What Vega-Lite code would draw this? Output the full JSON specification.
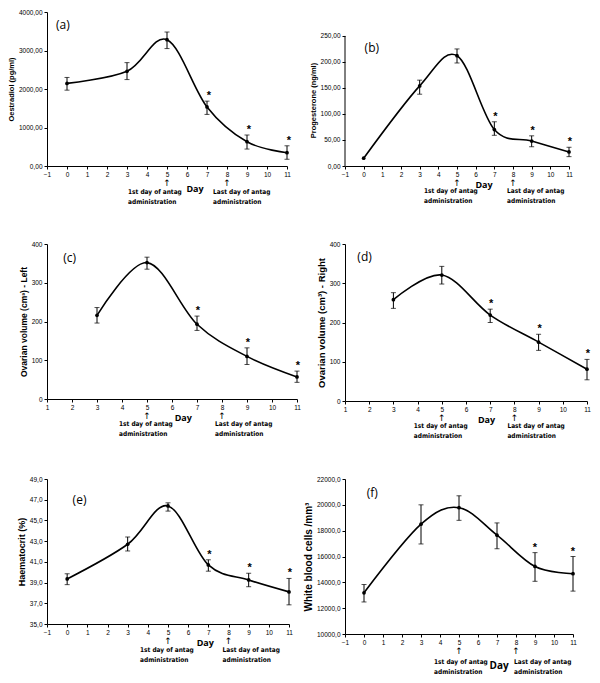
{
"$schema": "https://vega.github.io/schema/vega-lite/v6.json",
"padding": {"left": 7, "top": 9, "right": 5, "bottom": 5},
"background": "white",
"datasets": {
 "a": [{"day":0,"mean":2145,"lo":1970,"hi":2300,"sig":""},{"day":3,"mean":2460,"lo":2245,"hi":2685,"sig":""},{"day":5,"mean":3280,"lo":3050,"hi":3480,"sig":""},{"day":7,"mean":1535,"lo":1340,"hi":1685,"sig":"*"},{"day":9,"mean":630,"lo":440,"hi":805,"sig":"*"},{"day":11,"mean":345,"lo":175,"hi":525,"sig":"*"}],
 "b": [{"day":0,"mean":15,"lo":null,"hi":null,"sig":""},{"day":3,"mean":154,"lo":138,"hi":165,"sig":""},{"day":5,"mean":212,"lo":198,"hi":225,"sig":""},{"day":7,"mean":70,"lo":59,"hi":85,"sig":"*"},{"day":9,"mean":48,"lo":37,"hi":58,"sig":"*"},{"day":11,"mean":27,"lo":18,"hi":36,"sig":"*"}],
 "c": [{"day":3,"mean":216,"lo":196,"hi":236,"sig":""},{"day":5,"mean":352,"lo":335,"hi":366,"sig":""},{"day":7,"mean":193,"lo":177,"hi":214,"sig":"*"},{"day":9,"mean":110,"lo":89,"hi":132,"sig":"*"},{"day":11,"mean":57,"lo":43,"hi":72,"sig":"*"}],
 "d": [{"day":3,"mean":258,"lo":236,"hi":276,"sig":""},{"day":5,"mean":321,"lo":298,"hi":343,"sig":""},{"day":7,"mean":219,"lo":200,"hi":234,"sig":"*"},{"day":9,"mean":150,"lo":129,"hi":170,"sig":"*"},{"day":11,"mean":81,"lo":54,"hi":106,"sig":"*"}],
 "e": [{"day":0,"mean":39.35,"lo":38.8,"hi":39.85,"sig":""},{"day":3,"mean":42.7,"lo":42.05,"hi":43.4,"sig":""},{"day":5,"mean":46.4,"lo":45.9,"hi":46.7,"sig":""},{"day":7,"mean":40.7,"lo":40.1,"hi":41.2,"sig":"*"},{"day":9,"mean":39.25,"lo":38.6,"hi":39.9,"sig":"*"},{"day":11,"mean":38.1,"lo":36.85,"hi":39.4,"sig":"*"}],
 "f": [{"day":0,"mean":13190,"lo":12480,"hi":13830,"sig":""},{"day":3,"mean":18500,"lo":16970,"hi":20000,"sig":""},{"day":5,"mean":19780,"lo":18800,"hi":20700,"sig":""},{"day":7,"mean":17650,"lo":16600,"hi":18600,"sig":""},{"day":9,"mean":15230,"lo":14080,"hi":16300,"sig":"*"},{"day":11,"mean":14670,"lo":13320,"hi":16000,"sig":"*"}],
 "ann": [{"day":5,"lab":["1st day of antag","administration"]},{"day":8,"lab":["Last day of antag","administration"]}],
 "one": [{"k":1}]
},
"columns": 2,
"bounds": "flush",
"spacing": {"row": 78, "column": 48},
"concat": [
 {"width":240,"height":154,"data":{"name":"a"},
  "layer":[
  {"mark":{"type":"line","interpolate":"cardinal","color":"black","strokeWidth":1.6},"encoding":{
   "x":{"field":"day","type":"quantitative","title":null,"scale":{"domain":[-1,11],"nice":false,"zero":false},"axis":{"values":[-1,0,1,2,3,4,5,6,7,8,9,10,11],"format":"d","labelOverlap":false}},
   "y":{"field":"mean","type":"quantitative","title":"Oestradiol  (pg/ml)","scale":{"domain":[0,4000],"nice":false},"axis":{"values":[0,1000,2000,3000,4000],"labelExpr":"replace(format(datum.value,'.2f'),'.',',')","labelOverlap":false,"titleFontSize":7.5}}}},
  {"mark":{"type":"errorbar","ticks":{"size":5},"color":"black"},"encoding":{
   "x":{"field":"day","type":"quantitative","title":null,"scale":{"domain":[-1,11],"nice":false,"zero":false},"axis":{"values":[-1,0,1,2,3,4,5,6,7,8,9,10,11],"format":"d","labelOverlap":false}},
   "y":{"field":"lo","type":"quantitative","title":"Oestradiol  (pg/ml)","scale":{"domain":[0,4000],"nice":false},"axis":{"values":[0,1000,2000,3000,4000],"labelExpr":"replace(format(datum.value,'.2f'),'.',',')","labelOverlap":false,"titleFontSize":7.5}},"y2":{"field":"hi"}}},
  {"mark":{"type":"point","filled":true,"size":14,"color":"black","opacity":1},"encoding":{
   "x":{"field":"day","type":"quantitative","title":null,"scale":{"domain":[-1,11],"nice":false,"zero":false},"axis":{"values":[-1,0,1,2,3,4,5,6,7,8,9,10,11],"format":"d","labelOverlap":false}},
   "y":{"field":"mean","type":"quantitative","title":"Oestradiol  (pg/ml)","scale":{"domain":[0,4000],"nice":false},"axis":{"values":[0,1000,2000,3000,4000],"labelExpr":"replace(format(datum.value,'.2f'),'.',',')","labelOverlap":false,"titleFontSize":7.5}}}},
  {"transform":[{"filter":"datum.sig"}],"mark":{"type":"text","fontSize":11,"fontWeight":"bold","dy":-2,"dx":2,"baseline":"alphabetic","font":"Liberation Sans"},"encoding":{
   "x":{"field":"day","type":"quantitative","title":null,"scale":{"domain":[-1,11],"nice":false,"zero":false},"axis":{"values":[-1,0,1,2,3,4,5,6,7,8,9,10,11],"format":"d","labelOverlap":false}},
   "y":{"field":"hi","type":"quantitative","title":"Oestradiol  (pg/ml)","scale":{"domain":[0,4000],"nice":false},"axis":{"values":[0,1000,2000,3000,4000],"labelExpr":"replace(format(datum.value,'.2f'),'.',',')","labelOverlap":false,"titleFontSize":7.5}},"text":{"field":"sig"}}},
  {"data":{"name":"one"},"mark":{"type":"text","fontSize":12,"align":"left","baseline":"middle","font":"Open Sans"},"encoding":{"x":{"datum":-0.55,"axis":{"values":[-1,0,1,2,3,4,5,6,7,8,9,10,11],"format":"d","labelOverlap":false}},"y":{"datum":3650,"axis":{"values":[0,1000,2000,3000,4000],"labelExpr":"replace(format(datum.value,'.2f'),'.',',')","labelOverlap":false,"titleFontSize":7.5}},"text":{"value":"(a)"}}},
  {"data":{"name":"ann"},"mark":{"type":"text","font":"DejaVu Sans","fontSize":9,"baseline":"top","dy":13},"encoding":{"x":{"field":"day","type":"quantitative","title":null,"scale":{"domain":[-1,11],"nice":false,"zero":false},"axis":{"values":[-1,0,1,2,3,4,5,6,7,8,9,10,11],"format":"d","labelOverlap":false}},"y":{"datum":0,"axis":{"values":[0,1000,2000,3000,4000],"labelExpr":"replace(format(datum.value,'.2f'),'.',',')","labelOverlap":false,"titleFontSize":7.5}},"text":{"value":"↑"}}},
  {"data":{"name":"ann"},"transform":[{"filter":"datum.day==5"}],"mark":{"type":"text","align":"left","baseline":"top","dy":23,"dx":-39,"fontSize":6.5,"fontWeight":"bold","font":"Liberation Sans Narrow, DejaVu Sans Condensed","lineHeight":9.5},"encoding":{"x":{"field":"day","type":"quantitative","title":null,"scale":{"domain":[-1,11],"nice":false,"zero":false},"axis":{"values":[-1,0,1,2,3,4,5,6,7,8,9,10,11],"format":"d","labelOverlap":false}},"y":{"datum":0,"axis":{"values":[0,1000,2000,3000,4000],"labelExpr":"replace(format(datum.value,'.2f'),'.',',')","labelOverlap":false,"titleFontSize":7.5}},"text":{"field":"lab"}}},
  {"data":{"name":"ann"},"transform":[{"filter":"datum.day==8"}],"mark":{"type":"text","align":"left","baseline":"top","dy":23,"dx":-14,"fontSize":6.5,"fontWeight":"bold","font":"Liberation Sans Narrow, DejaVu Sans Condensed","lineHeight":9.5},"encoding":{"x":{"field":"day","type":"quantitative","title":null,"scale":{"domain":[-1,11],"nice":false,"zero":false},"axis":{"values":[-1,0,1,2,3,4,5,6,7,8,9,10,11],"format":"d","labelOverlap":false}},"y":{"datum":0,"axis":{"values":[0,1000,2000,3000,4000],"labelExpr":"replace(format(datum.value,'.2f'),'.',',')","labelOverlap":false,"titleFontSize":7.5}},"text":{"field":"lab"}}},
  {"data":{"name":"one"},"mark":{"type":"text","fontSize":9,"fontWeight":"bold","baseline":"middle","dy":23,"font":"Open Sans"},"encoding":{"x":{"datum":6.4,"axis":{"values":[-1,0,1,2,3,4,5,6,7,8,9,10,11],"format":"d","labelOverlap":false}},"y":{"datum":0,"axis":{"values":[0,1000,2000,3000,4000],"labelExpr":"replace(format(datum.value,'.2f'),'.',',')","labelOverlap":false,"titleFontSize":7.5}},"text":{"value":"Day"}}}
 ]},
 {"width":224,"height":154,"data":{"name":"b"},
  "layer":[
  {"mark":{"type":"line","interpolate":"cardinal","color":"black","strokeWidth":1.6},"encoding":{
   "x":{"field":"day","type":"quantitative","title":null,"scale":{"domain":[-1,11],"nice":false,"zero":false},"axis":{"values":[-1,0,1,2,3,4,5,6,7,8,9,10,11],"format":"d","labelOverlap":false}},
   "y":{"field":"mean","type":"quantitative","title":"Progesterone (ng/ml)","scale":{"domain":[0,296],"nice":false},"axis":{"values":[0,50,100,150,200,250],"domain":false,"labelExpr":"replace(format(datum.value,'.2f'),'.',',')","labelOverlap":false,"titleFontSize":7.5,"titleY":88}}}},
  {"data":{"name":"one"},"mark":{"type":"rule","color":"black","strokeWidth":1},"encoding":{"x":{"datum":-1,"axis":{"values":[-1,0,1,2,3,4,5,6,7,8,9,10,11],"format":"d","labelOverlap":false}},"y":{"datum":0,"axis":{"values":[0,50,100,150,200,250],"domain":false,"labelExpr":"replace(format(datum.value,'.2f'),'.',',')","labelOverlap":false,"titleFontSize":7.5,"titleY":88}},"y2":{"datum":250}}},
  {"mark":{"type":"errorbar","ticks":{"size":5},"color":"black"},"encoding":{
   "x":{"field":"day","type":"quantitative","title":null,"scale":{"domain":[-1,11],"nice":false,"zero":false},"axis":{"values":[-1,0,1,2,3,4,5,6,7,8,9,10,11],"format":"d","labelOverlap":false}},
   "y":{"field":"lo","type":"quantitative","title":"Progesterone (ng/ml)","scale":{"domain":[0,296],"nice":false},"axis":{"values":[0,50,100,150,200,250],"domain":false,"labelExpr":"replace(format(datum.value,'.2f'),'.',',')","labelOverlap":false,"titleFontSize":7.5,"titleY":88}},"y2":{"field":"hi"}}},
  {"mark":{"type":"point","filled":true,"size":14,"color":"black","opacity":1},"encoding":{
   "x":{"field":"day","type":"quantitative","title":null,"scale":{"domain":[-1,11],"nice":false,"zero":false},"axis":{"values":[-1,0,1,2,3,4,5,6,7,8,9,10,11],"format":"d","labelOverlap":false}},
   "y":{"field":"mean","type":"quantitative","title":"Progesterone (ng/ml)","scale":{"domain":[0,296],"nice":false},"axis":{"values":[0,50,100,150,200,250],"domain":false,"labelExpr":"replace(format(datum.value,'.2f'),'.',',')","labelOverlap":false,"titleFontSize":7.5,"titleY":88}}}},
  {"transform":[{"filter":"datum.sig"}],"mark":{"type":"text","fontSize":11,"fontWeight":"bold","dy":-2,"dx":1,"baseline":"alphabetic","font":"Liberation Sans"},"encoding":{
   "x":{"field":"day","type":"quantitative","title":null,"scale":{"domain":[-1,11],"nice":false,"zero":false},"axis":{"values":[-1,0,1,2,3,4,5,6,7,8,9,10,11],"format":"d","labelOverlap":false}},
   "y":{"field":"hi","type":"quantitative","title":"Progesterone (ng/ml)","scale":{"domain":[0,296],"nice":false},"axis":{"values":[0,50,100,150,200,250],"domain":false,"labelExpr":"replace(format(datum.value,'.2f'),'.',',')","labelOverlap":false,"titleFontSize":7.5,"titleY":88}},"text":{"field":"sig"}}},
  {"data":{"name":"one"},"mark":{"type":"text","fontSize":12,"align":"left","baseline":"middle","font":"Open Sans"},"encoding":{"x":{"datum":0.05,"axis":{"values":[-1,0,1,2,3,4,5,6,7,8,9,10,11],"format":"d","labelOverlap":false}},"y":{"datum":227,"axis":{"values":[0,50,100,150,200,250],"domain":false,"labelExpr":"replace(format(datum.value,'.2f'),'.',',')","labelOverlap":false,"titleFontSize":7.5,"titleY":88}},"text":{"value":"(b)"}}},
  {"data":{"name":"ann"},"mark":{"type":"text","font":"DejaVu Sans","fontSize":9,"baseline":"top","dy":13},"encoding":{"x":{"field":"day","type":"quantitative","title":null,"scale":{"domain":[-1,11],"nice":false,"zero":false},"axis":{"values":[-1,0,1,2,3,4,5,6,7,8,9,10,11],"format":"d","labelOverlap":false}},"y":{"datum":0,"axis":{"values":[0,50,100,150,200,250],"domain":false,"labelExpr":"replace(format(datum.value,'.2f'),'.',',')","labelOverlap":false,"titleFontSize":7.5,"titleY":88}},"text":{"value":"↑"}}},
  {"data":{"name":"ann"},"transform":[{"filter":"datum.day==5"}],"mark":{"type":"text","align":"left","baseline":"top","dy":22,"dx":-33,"fontSize":6.5,"fontWeight":"bold","font":"Liberation Sans Narrow, DejaVu Sans Condensed","lineHeight":9.5},"encoding":{"x":{"field":"day","type":"quantitative","title":null,"scale":{"domain":[-1,11],"nice":false,"zero":false},"axis":{"values":[-1,0,1,2,3,4,5,6,7,8,9,10,11],"format":"d","labelOverlap":false}},"y":{"datum":0,"axis":{"values":[0,50,100,150,200,250],"domain":false,"labelExpr":"replace(format(datum.value,'.2f'),'.',',')","labelOverlap":false,"titleFontSize":7.5,"titleY":88}},"text":{"field":"lab"}}},
  {"data":{"name":"ann"},"transform":[{"filter":"datum.day==8"}],"mark":{"type":"text","align":"left","baseline":"top","dy":22,"dx":-6,"fontSize":6.5,"fontWeight":"bold","font":"Liberation Sans Narrow, DejaVu Sans Condensed","lineHeight":9.5},"encoding":{"x":{"field":"day","type":"quantitative","title":null,"scale":{"domain":[-1,11],"nice":false,"zero":false},"axis":{"values":[-1,0,1,2,3,4,5,6,7,8,9,10,11],"format":"d","labelOverlap":false}},"y":{"datum":0,"axis":{"values":[0,50,100,150,200,250],"domain":false,"labelExpr":"replace(format(datum.value,'.2f'),'.',',')","labelOverlap":false,"titleFontSize":7.5,"titleY":88}},"text":{"field":"lab"}}},
  {"data":{"name":"one"},"mark":{"type":"text","fontSize":9,"fontWeight":"bold","baseline":"middle","dy":19,"font":"Open Sans"},"encoding":{"x":{"datum":6.45,"axis":{"values":[-1,0,1,2,3,4,5,6,7,8,9,10,11],"format":"d","labelOverlap":false}},"y":{"datum":0,"axis":{"values":[0,50,100,150,200,250],"domain":false,"labelExpr":"replace(format(datum.value,'.2f'),'.',',')","labelOverlap":false,"titleFontSize":7.5,"titleY":88}},"text":{"value":"Day"}}}
 ]},
 {"width":250,"height":155,"data":{"name":"c"},
  "layer":[
  {"mark":{"type":"line","interpolate":"cardinal","color":"black","strokeWidth":1.6},"encoding":{
   "x":{"field":"day","type":"quantitative","title":null,"scale":{"domain":[1,11],"nice":false,"zero":false},"axis":{"values":[1,2,3,4,5,6,7,8,9,10,11],"format":"d","labelOverlap":false}},
   "y":{"field":"mean","type":"quantitative","title":"Ovarian volume (cm³) - Left","scale":{"domain":[0,400],"nice":false},"axis":{"values":[0,100,200,300,400],"format":"d","labelOverlap":false,"titleFontSize":8.5}}}},
  {"mark":{"type":"errorbar","ticks":{"size":5},"color":"black"},"encoding":{
   "x":{"field":"day","type":"quantitative","title":null,"scale":{"domain":[1,11],"nice":false,"zero":false},"axis":{"values":[1,2,3,4,5,6,7,8,9,10,11],"format":"d","labelOverlap":false}},
   "y":{"field":"lo","type":"quantitative","title":"Ovarian volume (cm³) - Left","scale":{"domain":[0,400],"nice":false},"axis":{"values":[0,100,200,300,400],"format":"d","labelOverlap":false,"titleFontSize":8.5}},"y2":{"field":"hi"}}},
  {"mark":{"type":"point","filled":true,"size":14,"color":"black","opacity":1},"encoding":{
   "x":{"field":"day","type":"quantitative","title":null,"scale":{"domain":[1,11],"nice":false,"zero":false},"axis":{"values":[1,2,3,4,5,6,7,8,9,10,11],"format":"d","labelOverlap":false}},
   "y":{"field":"mean","type":"quantitative","title":"Ovarian volume (cm³) - Left","scale":{"domain":[0,400],"nice":false},"axis":{"values":[0,100,200,300,400],"format":"d","labelOverlap":false,"titleFontSize":8.5}}}},
  {"transform":[{"filter":"datum.sig"}],"mark":{"type":"text","fontSize":11,"fontWeight":"bold","dy":-2,"dx":1,"baseline":"alphabetic","font":"Liberation Sans"},"encoding":{
   "x":{"field":"day","type":"quantitative","title":null,"scale":{"domain":[1,11],"nice":false,"zero":false},"axis":{"values":[1,2,3,4,5,6,7,8,9,10,11],"format":"d","labelOverlap":false}},
   "y":{"field":"hi","type":"quantitative","title":"Ovarian volume (cm³) - Left","scale":{"domain":[0,400],"nice":false},"axis":{"values":[0,100,200,300,400],"format":"d","labelOverlap":false,"titleFontSize":8.5}},"text":{"field":"sig"}}},
  {"data":{"name":"one"},"mark":{"type":"text","fontSize":12,"align":"left","baseline":"middle","font":"Open Sans"},"encoding":{"x":{"datum":1.65,"axis":{"values":[1,2,3,4,5,6,7,8,9,10,11],"format":"d","labelOverlap":false}},"y":{"datum":365,"axis":{"values":[0,100,200,300,400],"format":"d","labelOverlap":false,"titleFontSize":8.5}},"text":{"value":"(c)"}}},
  {"data":{"name":"ann"},"mark":{"type":"text","font":"DejaVu Sans","fontSize":9,"baseline":"top","dy":13},"encoding":{"x":{"field":"day","type":"quantitative","title":null,"scale":{"domain":[1,11],"nice":false,"zero":false},"axis":{"values":[1,2,3,4,5,6,7,8,9,10,11],"format":"d","labelOverlap":false}},"y":{"datum":0,"axis":{"values":[0,100,200,300,400],"format":"d","labelOverlap":false,"titleFontSize":8.5}},"text":{"value":"↑"}}},
  {"data":{"name":"ann"},"transform":[{"filter":"datum.day==5"}],"mark":{"type":"text","align":"left","baseline":"top","dy":22,"dx":-28,"fontSize":6.5,"fontWeight":"bold","font":"Liberation Sans Narrow, DejaVu Sans Condensed","lineHeight":9.5},"encoding":{"x":{"field":"day","type":"quantitative","title":null,"scale":{"domain":[1,11],"nice":false,"zero":false},"axis":{"values":[1,2,3,4,5,6,7,8,9,10,11],"format":"d","labelOverlap":false}},"y":{"datum":0,"axis":{"values":[0,100,200,300,400],"format":"d","labelOverlap":false,"titleFontSize":8.5}},"text":{"field":"lab"}}},
  {"data":{"name":"ann"},"transform":[{"filter":"datum.day==8"}],"mark":{"type":"text","align":"left","baseline":"top","dy":22,"dx":-7,"fontSize":6.5,"fontWeight":"bold","font":"Liberation Sans Narrow, DejaVu Sans Condensed","lineHeight":9.5},"encoding":{"x":{"field":"day","type":"quantitative","title":null,"scale":{"domain":[1,11],"nice":false,"zero":false},"axis":{"values":[1,2,3,4,5,6,7,8,9,10,11],"format":"d","labelOverlap":false}},"y":{"datum":0,"axis":{"values":[0,100,200,300,400],"format":"d","labelOverlap":false,"titleFontSize":8.5}},"text":{"field":"lab"}}},
  {"data":{"name":"one"},"mark":{"type":"text","fontSize":9,"fontWeight":"bold","baseline":"middle","dy":19,"font":"Open Sans"},"encoding":{"x":{"datum":6.45,"axis":{"values":[1,2,3,4,5,6,7,8,9,10,11],"format":"d","labelOverlap":false}},"y":{"datum":0,"axis":{"values":[0,100,200,300,400],"format":"d","labelOverlap":false,"titleFontSize":8.5}},"text":{"value":"Day"}}}
 ]},
 {"width":242,"height":157,"data":{"name":"d"},
  "layer":[
  {"mark":{"type":"line","interpolate":"cardinal","color":"black","strokeWidth":1.6},"encoding":{
   "x":{"field":"day","type":"quantitative","title":null,"scale":{"domain":[1,11],"nice":false,"zero":false},"axis":{"values":[1,2,3,4,5,6,7,8,9,10,11],"format":"d","labelOverlap":false}},
   "y":{"field":"mean","type":"quantitative","title":"Ovarian volume (cm³) - Right","scale":{"domain":[0,400],"nice":false},"axis":{"values":[0,100,200,300,400],"format":"d","labelOverlap":false,"titleFontSize":9.5}}}},
  {"mark":{"type":"errorbar","ticks":{"size":5},"color":"black"},"encoding":{
   "x":{"field":"day","type":"quantitative","title":null,"scale":{"domain":[1,11],"nice":false,"zero":false},"axis":{"values":[1,2,3,4,5,6,7,8,9,10,11],"format":"d","labelOverlap":false}},
   "y":{"field":"lo","type":"quantitative","title":"Ovarian volume (cm³) - Right","scale":{"domain":[0,400],"nice":false},"axis":{"values":[0,100,200,300,400],"format":"d","labelOverlap":false,"titleFontSize":9.5}},"y2":{"field":"hi"}}},
  {"mark":{"type":"point","filled":true,"size":14,"color":"black","opacity":1},"encoding":{
   "x":{"field":"day","type":"quantitative","title":null,"scale":{"domain":[1,11],"nice":false,"zero":false},"axis":{"values":[1,2,3,4,5,6,7,8,9,10,11],"format":"d","labelOverlap":false}},
   "y":{"field":"mean","type":"quantitative","title":"Ovarian volume (cm³) - Right","scale":{"domain":[0,400],"nice":false},"axis":{"values":[0,100,200,300,400],"format":"d","labelOverlap":false,"titleFontSize":9.5}}}},
  {"transform":[{"filter":"datum.sig"}],"mark":{"type":"text","fontSize":11,"fontWeight":"bold","dy":-2,"dx":1,"baseline":"alphabetic","font":"Liberation Sans"},"encoding":{
   "x":{"field":"day","type":"quantitative","title":null,"scale":{"domain":[1,11],"nice":false,"zero":false},"axis":{"values":[1,2,3,4,5,6,7,8,9,10,11],"format":"d","labelOverlap":false}},
   "y":{"field":"hi","type":"quantitative","title":"Ovarian volume (cm³) - Right","scale":{"domain":[0,400],"nice":false},"axis":{"values":[0,100,200,300,400],"format":"d","labelOverlap":false,"titleFontSize":9.5}},"text":{"field":"sig"}}},
  {"data":{"name":"one"},"mark":{"type":"text","fontSize":12,"align":"left","baseline":"middle","font":"Open Sans"},"encoding":{"x":{"datum":1.51,"axis":{"values":[1,2,3,4,5,6,7,8,9,10,11],"format":"d","labelOverlap":false}},"y":{"datum":366,"axis":{"values":[0,100,200,300,400],"format":"d","labelOverlap":false,"titleFontSize":9.5}},"text":{"value":"(d)"}}},
  {"data":{"name":"ann"},"mark":{"type":"text","font":"DejaVu Sans","fontSize":9,"baseline":"top","dy":13},"encoding":{"x":{"field":"day","type":"quantitative","title":null,"scale":{"domain":[1,11],"nice":false,"zero":false},"axis":{"values":[1,2,3,4,5,6,7,8,9,10,11],"format":"d","labelOverlap":false}},"y":{"datum":0,"axis":{"values":[0,100,200,300,400],"format":"d","labelOverlap":false,"titleFontSize":9.5}},"text":{"value":"↑"}}},
  {"data":{"name":"ann"},"transform":[{"filter":"datum.day==5"}],"mark":{"type":"text","align":"left","baseline":"top","dy":22,"dx":-28,"fontSize":6.5,"fontWeight":"bold","font":"Liberation Sans Narrow, DejaVu Sans Condensed","lineHeight":9.5},"encoding":{"x":{"field":"day","type":"quantitative","title":null,"scale":{"domain":[1,11],"nice":false,"zero":false},"axis":{"values":[1,2,3,4,5,6,7,8,9,10,11],"format":"d","labelOverlap":false}},"y":{"datum":0,"axis":{"values":[0,100,200,300,400],"format":"d","labelOverlap":false,"titleFontSize":9.5}},"text":{"field":"lab"}}},
  {"data":{"name":"ann"},"transform":[{"filter":"datum.day==8"}],"mark":{"type":"text","align":"left","baseline":"top","dy":22,"dx":-7,"fontSize":6.5,"fontWeight":"bold","font":"Liberation Sans Narrow, DejaVu Sans Condensed","lineHeight":9.5},"encoding":{"x":{"field":"day","type":"quantitative","title":null,"scale":{"domain":[1,11],"nice":false,"zero":false},"axis":{"values":[1,2,3,4,5,6,7,8,9,10,11],"format":"d","labelOverlap":false}},"y":{"datum":0,"axis":{"values":[0,100,200,300,400],"format":"d","labelOverlap":false,"titleFontSize":9.5}},"text":{"field":"lab"}}},
  {"data":{"name":"one"},"mark":{"type":"text","fontSize":9,"fontWeight":"bold","baseline":"middle","dy":19,"font":"Open Sans"},"encoding":{"x":{"datum":6.85,"axis":{"values":[1,2,3,4,5,6,7,8,9,10,11],"format":"d","labelOverlap":false}},"y":{"datum":0,"axis":{"values":[0,100,200,300,400],"format":"d","labelOverlap":false,"titleFontSize":9.5}},"text":{"value":"Day"}}}
 ]},
 {"width":242,"height":145,"data":{"name":"e"},
  "layer":[
  {"mark":{"type":"line","interpolate":"cardinal","color":"black","strokeWidth":1.6},"encoding":{
   "x":{"field":"day","type":"quantitative","title":null,"scale":{"domain":[-1,11],"nice":false,"zero":false},"axis":{"values":[-1,0,1,2,3,4,5,6,7,8,9,10,11],"format":"d","labelOverlap":false}},
   "y":{"field":"mean","type":"quantitative","title":"Haematocrit (%)","scale":{"domain":[35,49],"nice":false,"zero":false},"axis":{"values":[35,37,39,41,43,45,47,49],"labelExpr":"replace(format(datum.value,'.1f'),'.',',')","labelOverlap":false,"titleFontSize":9}}}},
  {"mark":{"type":"errorbar","ticks":{"size":5},"color":"black"},"encoding":{
   "x":{"field":"day","type":"quantitative","title":null,"scale":{"domain":[-1,11],"nice":false,"zero":false},"axis":{"values":[-1,0,1,2,3,4,5,6,7,8,9,10,11],"format":"d","labelOverlap":false}},
   "y":{"field":"lo","type":"quantitative","title":"Haematocrit (%)","scale":{"domain":[35,49],"nice":false,"zero":false},"axis":{"values":[35,37,39,41,43,45,47,49],"labelExpr":"replace(format(datum.value,'.1f'),'.',',')","labelOverlap":false,"titleFontSize":9}},"y2":{"field":"hi"}}},
  {"mark":{"type":"point","filled":true,"size":14,"color":"black","opacity":1},"encoding":{
   "x":{"field":"day","type":"quantitative","title":null,"scale":{"domain":[-1,11],"nice":false,"zero":false},"axis":{"values":[-1,0,1,2,3,4,5,6,7,8,9,10,11],"format":"d","labelOverlap":false}},
   "y":{"field":"mean","type":"quantitative","title":"Haematocrit (%)","scale":{"domain":[35,49],"nice":false,"zero":false},"axis":{"values":[35,37,39,41,43,45,47,49],"labelExpr":"replace(format(datum.value,'.1f'),'.',',')","labelOverlap":false,"titleFontSize":9}}}},
  {"transform":[{"filter":"datum.sig"}],"mark":{"type":"text","fontSize":11,"fontWeight":"bold","dy":-2,"dx":1,"baseline":"alphabetic","font":"Liberation Sans"},"encoding":{
   "x":{"field":"day","type":"quantitative","title":null,"scale":{"domain":[-1,11],"nice":false,"zero":false},"axis":{"values":[-1,0,1,2,3,4,5,6,7,8,9,10,11],"format":"d","labelOverlap":false}},
   "y":{"field":"hi","type":"quantitative","title":"Haematocrit (%)","scale":{"domain":[35,49],"nice":false,"zero":false},"axis":{"values":[35,37,39,41,43,45,47,49],"labelExpr":"replace(format(datum.value,'.1f'),'.',',')","labelOverlap":false,"titleFontSize":9}},"text":{"field":"sig"}}},
  {"data":{"name":"one"},"mark":{"type":"text","fontSize":12,"align":"left","baseline":"middle","font":"Open Sans"},"encoding":{"x":{"datum":0.27,"axis":{"values":[-1,0,1,2,3,4,5,6,7,8,9,10,11],"format":"d","labelOverlap":false}},"y":{"datum":46.98,"axis":{"values":[35,37,39,41,43,45,47,49],"labelExpr":"replace(format(datum.value,'.1f'),'.',',')","labelOverlap":false,"titleFontSize":9}},"text":{"value":"(e)"}}},
  {"data":{"name":"ann"},"mark":{"type":"text","font":"DejaVu Sans","fontSize":9,"baseline":"top","dy":13},"encoding":{"x":{"field":"day","type":"quantitative","title":null,"scale":{"domain":[-1,11],"nice":false,"zero":false},"axis":{"values":[-1,0,1,2,3,4,5,6,7,8,9,10,11],"format":"d","labelOverlap":false}},"y":{"datum":35,"axis":{"values":[35,37,39,41,43,45,47,49],"labelExpr":"replace(format(datum.value,'.1f'),'.',',')","labelOverlap":false,"titleFontSize":9}},"text":{"value":"↑"}}},
  {"data":{"name":"ann"},"transform":[{"filter":"datum.day==5"}],"mark":{"type":"text","align":"left","baseline":"top","dy":23,"dx":-28,"fontSize":6.5,"fontWeight":"bold","font":"Liberation Sans Narrow, DejaVu Sans Condensed","lineHeight":9.5},"encoding":{"x":{"field":"day","type":"quantitative","title":null,"scale":{"domain":[-1,11],"nice":false,"zero":false},"axis":{"values":[-1,0,1,2,3,4,5,6,7,8,9,10,11],"format":"d","labelOverlap":false}},"y":{"datum":35,"axis":{"values":[35,37,39,41,43,45,47,49],"labelExpr":"replace(format(datum.value,'.1f'),'.',',')","labelOverlap":false,"titleFontSize":9}},"text":{"field":"lab"}}},
  {"data":{"name":"ann"},"transform":[{"filter":"datum.day==8"}],"mark":{"type":"text","align":"left","baseline":"top","dy":23,"dx":-6,"fontSize":6.5,"fontWeight":"bold","font":"Liberation Sans Narrow, DejaVu Sans Condensed","lineHeight":9.5},"encoding":{"x":{"field":"day","type":"quantitative","title":null,"scale":{"domain":[-1,11],"nice":false,"zero":false},"axis":{"values":[-1,0,1,2,3,4,5,6,7,8,9,10,11],"format":"d","labelOverlap":false}},"y":{"datum":35,"axis":{"values":[35,37,39,41,43,45,47,49],"labelExpr":"replace(format(datum.value,'.1f'),'.',',')","labelOverlap":false,"titleFontSize":9}},"text":{"field":"lab"}}},
  {"data":{"name":"one"},"mark":{"type":"text","fontSize":9,"fontWeight":"bold","baseline":"middle","dy":19,"font":"Open Sans"},"encoding":{"x":{"datum":6.85,"axis":{"values":[-1,0,1,2,3,4,5,6,7,8,9,10,11],"format":"d","labelOverlap":false}},"y":{"datum":35,"axis":{"values":[35,37,39,41,43,45,47,49],"labelExpr":"replace(format(datum.value,'.1f'),'.',',')","labelOverlap":false,"titleFontSize":9}},"text":{"value":"Day"}}}
 ]},
 {"width":228,"height":155,"data":{"name":"f"},
  "layer":[
  {"mark":{"type":"line","interpolate":"cardinal","color":"black","strokeWidth":1.6},"encoding":{
   "x":{"field":"day","type":"quantitative","title":null,"scale":{"domain":[-1,11],"nice":false,"zero":false},"axis":{"values":[-1,0,1,2,3,4,5,6,7,8,9,10,11],"format":"d","labelOverlap":false}},
   "y":{"field":"mean","type":"quantitative","title":"White blood cells /mm³","scale":{"domain":[10000,22000],"nice":false,"zero":false},"axis":{"values":[10000,12000,14000,16000,18000,20000,22000],"labelExpr":"replace(format(datum.value,'.1f'),'.',',')","labelOverlap":false,"titleFontSize":10}}}},
  {"mark":{"type":"errorbar","ticks":{"size":5},"color":"black"},"encoding":{
   "x":{"field":"day","type":"quantitative","title":null,"scale":{"domain":[-1,11],"nice":false,"zero":false},"axis":{"values":[-1,0,1,2,3,4,5,6,7,8,9,10,11],"format":"d","labelOverlap":false}},
   "y":{"field":"lo","type":"quantitative","title":"White blood cells /mm³","scale":{"domain":[10000,22000],"nice":false,"zero":false},"axis":{"values":[10000,12000,14000,16000,18000,20000,22000],"labelExpr":"replace(format(datum.value,'.1f'),'.',',')","labelOverlap":false,"titleFontSize":10}},"y2":{"field":"hi"}}},
  {"mark":{"type":"point","filled":true,"size":14,"color":"black","opacity":1},"encoding":{
   "x":{"field":"day","type":"quantitative","title":null,"scale":{"domain":[-1,11],"nice":false,"zero":false},"axis":{"values":[-1,0,1,2,3,4,5,6,7,8,9,10,11],"format":"d","labelOverlap":false}},
   "y":{"field":"mean","type":"quantitative","title":"White blood cells /mm³","scale":{"domain":[10000,22000],"nice":false,"zero":false},"axis":{"values":[10000,12000,14000,16000,18000,20000,22000],"labelExpr":"replace(format(datum.value,'.1f'),'.',',')","labelOverlap":false,"titleFontSize":10}}}},
  {"transform":[{"filter":"datum.sig"}],"mark":{"type":"text","fontSize":11,"fontWeight":"bold","dy":-2,"dx":0,"baseline":"alphabetic","font":"Liberation Sans"},"encoding":{
   "x":{"field":"day","type":"quantitative","title":null,"scale":{"domain":[-1,11],"nice":false,"zero":false},"axis":{"values":[-1,0,1,2,3,4,5,6,7,8,9,10,11],"format":"d","labelOverlap":false}},
   "y":{"field":"hi","type":"quantitative","title":"White blood cells /mm³","scale":{"domain":[10000,22000],"nice":false,"zero":false},"axis":{"values":[10000,12000,14000,16000,18000,20000,22000],"labelExpr":"replace(format(datum.value,'.1f'),'.',',')","labelOverlap":false,"titleFontSize":10}},"text":{"field":"sig"}}},
  {"data":{"name":"one"},"mark":{"type":"text","fontSize":12,"align":"left","baseline":"middle","font":"Open Sans"},"encoding":{"x":{"datum":0.14,"axis":{"values":[-1,0,1,2,3,4,5,6,7,8,9,10,11],"format":"d","labelOverlap":false}},"y":{"datum":20927,"axis":{"values":[10000,12000,14000,16000,18000,20000,22000],"labelExpr":"replace(format(datum.value,'.1f'),'.',',')","labelOverlap":false,"titleFontSize":10}},"text":{"value":"(f)"}}},
  {"data":{"name":"ann"},"mark":{"type":"text","font":"DejaVu Sans","fontSize":9,"baseline":"top","dy":13},"encoding":{"x":{"field":"day","type":"quantitative","title":null,"scale":{"domain":[-1,11],"nice":false,"zero":false},"axis":{"values":[-1,0,1,2,3,4,5,6,7,8,9,10,11],"format":"d","labelOverlap":false}},"y":{"datum":10000,"axis":{"values":[10000,12000,14000,16000,18000,20000,22000],"labelExpr":"replace(format(datum.value,'.1f'),'.',',')","labelOverlap":false,"titleFontSize":10}},"text":{"value":"↑"}}},
  {"data":{"name":"ann"},"transform":[{"filter":"datum.day==5"}],"mark":{"type":"text","align":"left","baseline":"top","dy":25,"dx":-25,"fontSize":6.5,"fontWeight":"bold","font":"Liberation Sans Narrow, DejaVu Sans Condensed","lineHeight":9.5},"encoding":{"x":{"field":"day","type":"quantitative","title":null,"scale":{"domain":[-1,11],"nice":false,"zero":false},"axis":{"values":[-1,0,1,2,3,4,5,6,7,8,9,10,11],"format":"d","labelOverlap":false}},"y":{"datum":10000,"axis":{"values":[10000,12000,14000,16000,18000,20000,22000],"labelExpr":"replace(format(datum.value,'.1f'),'.',',')","labelOverlap":false,"titleFontSize":10}},"text":{"field":"lab"}}},
  {"data":{"name":"ann"},"transform":[{"filter":"datum.day==8"}],"mark":{"type":"text","align":"left","baseline":"top","dy":25,"dx":-2,"fontSize":6.5,"fontWeight":"bold","font":"Liberation Sans Narrow, DejaVu Sans Condensed","lineHeight":9.5},"encoding":{"x":{"field":"day","type":"quantitative","title":null,"scale":{"domain":[-1,11],"nice":false,"zero":false},"axis":{"values":[-1,0,1,2,3,4,5,6,7,8,9,10,11],"format":"d","labelOverlap":false}},"y":{"datum":10000,"axis":{"values":[10000,12000,14000,16000,18000,20000,22000],"labelExpr":"replace(format(datum.value,'.1f'),'.',',')","labelOverlap":false,"titleFontSize":10}},"text":{"field":"lab"}}},
  {"data":{"name":"one"},"mark":{"type":"text","fontSize":10,"fontWeight":"bold","baseline":"middle","dy":32,"font":"Open Sans"},"encoding":{"x":{"datum":7.11,"axis":{"values":[-1,0,1,2,3,4,5,6,7,8,9,10,11],"format":"d","labelOverlap":false}},"y":{"datum":10000,"axis":{"values":[10000,12000,14000,16000,18000,20000,22000],"labelExpr":"replace(format(datum.value,'.1f'),'.',',')","labelOverlap":false,"titleFontSize":10}},"text":{"value":"Day"}}}
 ]}
],
"config": {
 "view": {"stroke": null},
 "axis": {"grid": false, "domainColor": "#000", "tickColor": "#000", "labelColor": "#000", "titleColor": "#000", "labelFont": "Liberation Sans", "labelFontSize": 6.5, "titleFont": "Liberation Sans", "titleFontWeight": "bold", "titleFontSize": 8, "tickSize": 3, "labelPadding": 2, "titlePadding": 3, "labelFlush": false, "labelOverlap": false},
 "axisX": {"labelAngle": 0},
 "text": {"color": "#000"}
}
}
